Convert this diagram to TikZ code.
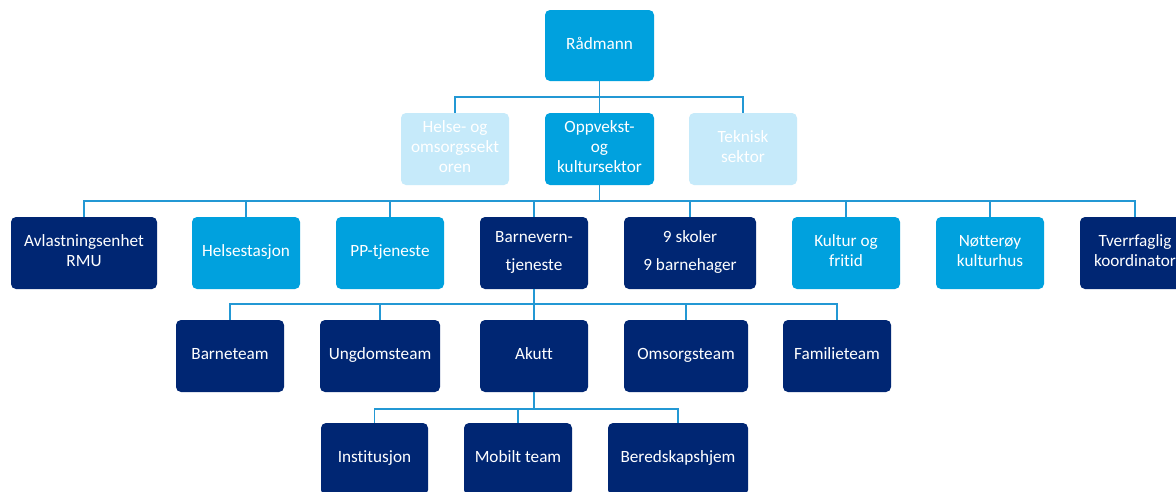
\documentclass[tikz,border=0pt]{standalone}
\usepackage{fontspec}
\setmainfont{Carlito}[Ligatures=NoCommon]
\definecolor{cyanbox}{HTML}{00A1DE}
\definecolor{navybox}{HTML}{002673}
\definecolor{palebox}{HTML}{C6EAFA}
\definecolor{linkline}{HTML}{2398D4}
\newcommand{\boxstrut}{\rule[-4.5pt]{0pt}{15.5pt}}
\tikzset{
  unit/.style={rectangle, rounded corners=5pt, inner sep=2pt, align=center,
    text=white, font=\fontsize{17.2}{20}\selectfont,
    execute at begin node=\boxstrut, execute at end node=\boxstrut},
  cyanunit/.style={unit, fill=cyanbox},
  navyunit/.style={unit, fill=navybox},
  paleunit/.style={unit, fill=palebox},
  link/.style={draw=linkline, line width=1.7pt},
}
% box from (x1,y1) to (x2,y2), y measured downwards
\newcommand{\orgbox}[7]{%
  \node[#1, minimum width=#4pt-#3pt, minimum height=#6pt-#5pt]
    (#2) at ({(#3+#4)/2},{(#5+#6)/2}) {#7};}
\begin{document}
\begin{tikzpicture}[x=1pt,y=-1pt]
\clip (0,0) rectangle (1176,491);
\fill[white] (0,0) rectangle (1176,491);

% top
\orgbox{cyanunit}{rad}{545}{654}{10}{81}{Rådmann}

% sectors
\orgbox{paleunit}{helse}{401}{509}{113}{185}{Helse- og\\omsorgssekt\\oren}
\orgbox{cyanunit}{oppv}{545}{654}{113}{185}{Oppvekst-\\og\\kultursektor}
\orgbox{paleunit}{tekn}{689}{797}{113}{185}{Teknisk\\sektor}

% units under the education and culture sector
\orgbox{navyunit}{avl}{11}{157}{217}{289}{Avlastningsenhet\\RMU}
\orgbox{cyanunit}{hst}{192}{300}{217}{289}{Helsestasjon}
\orgbox{cyanunit}{pp}{336}{444}{217}{289}{PP-tjeneste}
\orgbox{navyunit}{bv}{480}{588}{217}{289}{Barnevern-\\[8pt]tjeneste}
\orgbox{navyunit}{skol}{624}{756}{217}{289}{9 skoler\\[8pt]9 barnehager}
\orgbox{cyanunit}{kult}{792}{900}{217}{289}{Kultur og\\fritid}
\orgbox{cyanunit}{nott}{936}{1044}{217}{289}{Nøtterøy\\kulturhus}
\orgbox{navyunit}{tverr}{1080}{1190}{217}{289}{Tverrfaglig\\koordinator}

% child welfare teams
\orgbox{navyunit}{bt}{176}{284}{320}{392}{Barneteam}
\orgbox{navyunit}{ut}{320}{440}{320}{392}{Ungdomsteam}
\orgbox{navyunit}{ak}{480}{588}{320}{392}{Akutt}
\orgbox{navyunit}{ot}{624}{748}{320}{392}{Omsorgsteam}
\orgbox{navyunit}{ft}{783}{891}{320}{392}{Familieteam}

% emergency services
\orgbox{navyunit}{inst}{321}{428}{423}{495}{Institusjon}
\orgbox{navyunit}{mob}{464}{572}{423}{495}{Mobilt team}
\orgbox{navyunit}{bered}{608}{748}{423}{495}{Beredskapshjem}

% connectors
\foreach \c in {helse,oppv,tekn}
  \draw[link] (rad.south) -- ++(0,16) -| (\c.north);
\foreach \c in {avl,hst,pp,bv,skol,kult,nott,tverr}
  \draw[link] (oppv.south) -- ++(0,16) -| (\c.north);
\foreach \c in {bt,ut,ak,ot,ft}
  \draw[link] (bv.south) -- ++(0,15) -| (\c.north);
\foreach \c in {inst,mob,bered}
  \draw[link] (ak.south) -- ++(0,17) -| (\c.north);
\end{tikzpicture}
\end{document}
